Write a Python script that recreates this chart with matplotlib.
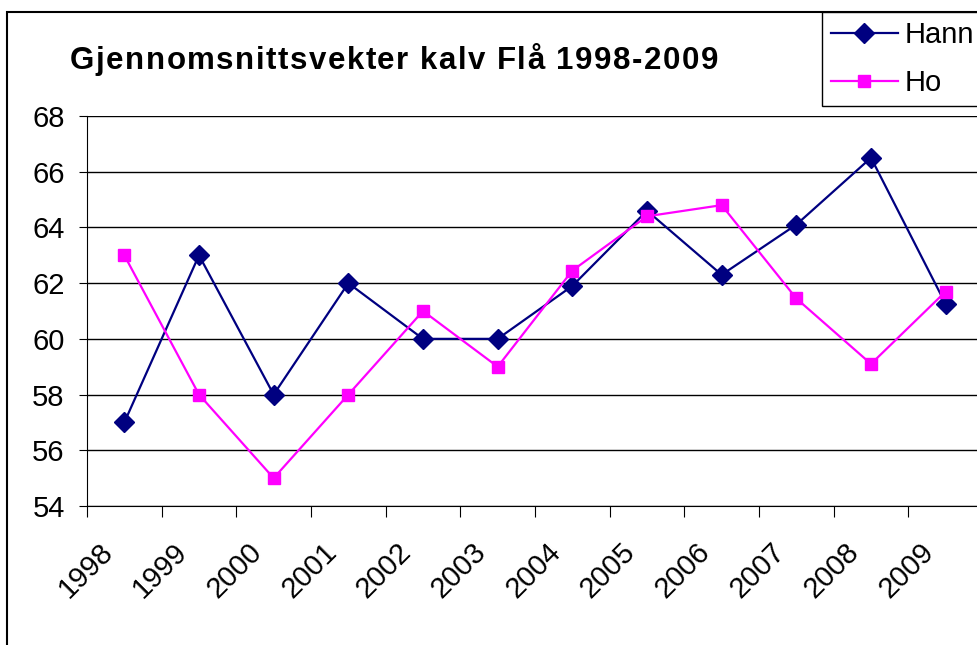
"""
Gjennomsnittsvekter kalv Flå 1998-2009
Excel-style line chart, Hann vs Ho
"""

import matplotlib
matplotlib.use("Agg")
import matplotlib.pyplot as plt
import numpy as np
from matplotlib.patches import Rectangle
from matplotlib.transforms import ScaledTranslation
from matplotlib.font_manager import FontProperties

plt.rcParams['font.family'] = ['Liberation Sans', 'DejaVu Sans']

# Data
years = ['1998', '1999', '2000', '2001', '2002', '2003',
         '2004', '2005', '2006', '2007', '2008', '2009']
hann = [57.0, 63.0, 58.0, 62.0, 60.0, 60.0, 61.9, 64.6, 62.3, 64.1, 66.5, 61.25]
ho = [63.0, 58.0, 55.0, 58.0, 61.0, 59.0, 62.45, 64.4, 64.8, 61.45, 59.1, 61.7]
y_ticks = [54, 56, 58, 60, 62, 64, 66, 68]
title = 'Gjennomsnittsvekter kalv Flå 1998-2009'

W, H = 978, 645
fig = plt.figure(figsize=(W / 100, H / 100), dpi=100)

# Plot area (right edge runs past the picture, like the original crop)
left, right, bottom, top = 87, 983, 506, 116
ax = fig.add_axes([left / W, 1 - bottom / H, (right - left) / W, (bottom - top) / H])

x = np.arange(len(years)) + 0.5
ax.plot(x, hann, color='#000080', marker='D', markersize=10, linewidth=1.6,
        label='Hann', clip_on=False, zorder=3)
ax.plot(x, ho, color='#FF00FF', marker='s', markersize=9, linewidth=1.6,
        label='Ho', clip_on=False, zorder=3)

ax.set_xlim(0, len(years))
ax.set_ylim(54, 68)
ax.set_yticks(y_ticks)
ax.set_yticklabels([str(v) for v in y_ticks], fontsize=21)
ax.yaxis.grid(True, color='black', linewidth=1)
ax.set_axisbelow(True)

# category boundaries get the tick marks, centres get the labels
ax.set_xticks(np.arange(len(years) + 1))
ax.set_xticklabels([])
ax.set_xticks(x, minor=True)
ax.set_xticklabels(years, minor=True, fontsize=21, rotation=45,
                   ha='right', va='center', rotation_mode='anchor')
ax.tick_params(axis='x', which='major', direction='out', length=8, color='black')
ax.tick_params(axis='x', which='minor', length=0, pad=30)
ax.tick_params(axis='y', direction='out', length=6, pad=10, color='black')
for lbl in ax.get_xticklabels(minor=True):
    lbl.set_transform(lbl.get_transform() + ScaledTranslation(-0.16, 0, fig.dpi_scale_trans))

for side in ['top', 'right']:
    ax.spines[side].set_visible(False)
ax.spines['left'].set_color('black')
ax.spines['bottom'].set_color('black')

# Title, drawn letter by letter to get the wide Excel spacing
renderer = fig.canvas.get_renderer()
tprops = FontProperties(family='Liberation Sans', weight='bold', size=22.5)
spacing = 1.5  # extra px per character
ref_w = renderer.get_text_width_height_descent('I', tprops, ismath=False)[0]
x0, y_base = 70, 69
for i, ch in enumerate(title):
    if ch == ' ':
        continue
    pre = 0 if i == 0 else renderer.get_text_width_height_descent(
        title[:i] + 'I', tprops, ismath=False)[0] - ref_w
    fig.text((x0 + pre + i * spacing) / W, 1 - y_base / H, ch, fontproperties=tprops,
             ha='left', va='baseline')

# Outer chart frame
fig.add_artist(Rectangle((7 / W, -0.2), 1.5, 0.2 + (1 - 12 / H), transform=fig.transFigure,
                         fill=False, edgecolor='black', linewidth=1.5))

# Legend box
leg = fig.legend(loc='upper left', bbox_to_anchor=(822 / W, 1 - 12 / H),
                 bbox_transform=fig.transFigure, borderaxespad=0, fontsize=21,
                 frameon=True, fancybox=False, edgecolor='black', framealpha=1,
                 handlelength=2.3, handletextpad=0.25, borderpad=0.3, labelspacing=0.7)
leg.get_frame().set_linewidth(1.0)

fig.savefig('out.png', dpi=100)
